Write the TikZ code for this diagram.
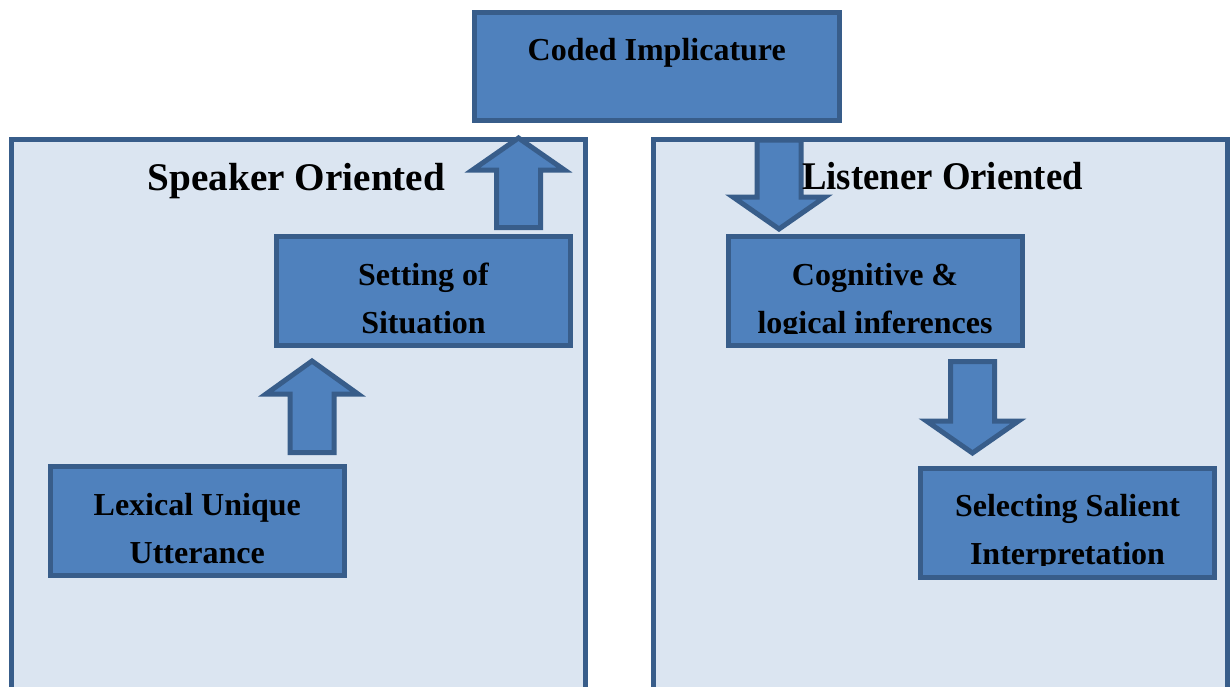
\documentclass[tikz,border=0pt]{standalone}
\usepackage{fontspec}
\setmainfont{Liberation Serif}
\usepackage{graphicx}
\definecolor{edgeblue}{HTML}{385D8A}
\definecolor{boxfill}{HTML}{4F81BD}
\definecolor{panelfill}{HTML}{DBE5F1}
\tikzset{
  panel/.style={draw=edgeblue, fill=panelfill, line width=5pt, inner sep=0pt, outer sep=0pt},
  box/.style={draw=edgeblue, fill=boxfill, line width=5pt, minimum width=294pt, minimum height=109pt, inner sep=0pt, outer sep=0pt},
  blockarrow/.style={draw=edgeblue, fill=boxfill, line width=5pt},
  boxtext/.style={anchor=base, inner sep=0pt, font=\fontsize{32}{38}\selectfont\bfseries},
  titletext/.style={anchor=base, inner sep=0pt, font=\fontsize{39.2}{46}\selectfont\bfseries},
}
% #1 x centre, #2 tail y, #3 head base y, #4 tip y
\newcommand\barrow[4]{\draw[blockarrow] (#1-22,#2) -- (#1-22,#3) -- (#1-46,#3) -- (#1,#4) -- (#1+46,#3) -- (#1+22,#3) -- (#1+22,#2) -- cycle;}
\begin{document}
\begin{tikzpicture}[x=1pt,y=-1pt]
\useasboundingbox (0,0) rectangle (1232,686);
\clip (0,0) rectangle (1232,686);
\fill[white] (0,0) rectangle (1232,686);
% panels
\node[panel, minimum width=573.5pt, minimum height=580.5pt] (speaker) at (298.25,429.75) {};
\node[panel, minimum width=574pt, minimum height=580.5pt] (listener) at (940,429.75) {};
% boxes
\node[box, minimum width=364.5pt, minimum height=108.5pt] (coded) at (656.75,66.25) {};
\node[box] (setting) at (423.5,291) {};
\node[box] (lexical) at (197.25,521) {};
\node[box] (cognitive) at (875,291) {};
\node[box] (selecting) at (1067.5,522.5) {};
% block arrows
\barrow{518.5}{227.5}{170}{138}
\barrow{312}{452.5}{394}{361}
\barrow{779}{140}{197}{229}
\barrow{972.5}{361.5}{421}{453}
% titles
\node[titletext] (speakertitle) at (296.5,190) {Speaker Oriented};
\node[titletext] (listenertitle) at (942.5,189.5) {\scalebox{0.937}[1]{Listener Oriented}};
% box texts
\node[boxtext] (codedtext) at (656.75,60) {Coded Implicature};
\node[boxtext] (settingtext1) at (423.5,285) {Setting of};
\node[boxtext] (settingtext2) at (423.5,333) {Situation};
\node[boxtext] (lexicaltext1) at (197.25,515) {Lexical Unique};
\node[boxtext] (lexicaltext2) at (197.25,563) {Utterance};
\begin{scope}
  \clip (cognitive.north west) rectangle ([yshift=12pt]cognitive.south east);
  \node[boxtext] (cognitivetext1) at (875,285) {Cognitive \&};
  \node[boxtext] (cognitivetext2) at (875,333) {logical inferences};
\end{scope}
\begin{scope}
  \clip (selecting.north west) rectangle ([yshift=12pt]selecting.south east);
  \node[boxtext] (selectingtext1) at (1067.5,516.5) {Selecting Salient};
  \node[boxtext] (selectingtext2) at (1067.5,564.5) {Interpretation};
\end{scope}
\end{tikzpicture}
\end{document}
